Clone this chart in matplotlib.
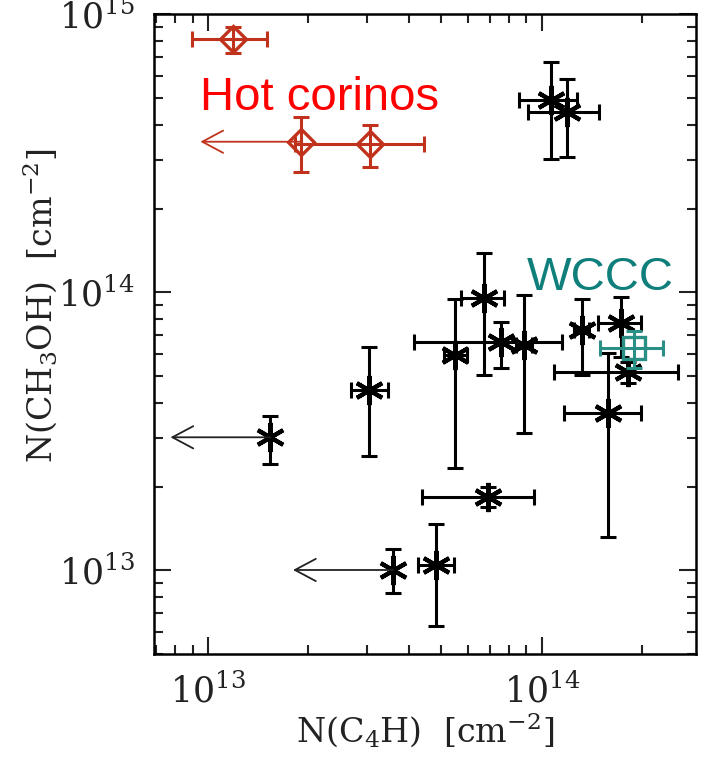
import numpy as np
import matplotlib.pyplot as plt

plt.rcParams['font.family'] = 'DejaVu Serif'
plt.rcParams['mathtext.fontset'] = 'dejavuserif'

# Sources detected in both species (black asterisks)
det_x = [1.065e14, 1.187e14, 3.05e13, 5.50e13, 7.54e13, 8.85e13, 6.72e13,
         1.319e14, 1.726e14, 1.82e14, 1.58e14, 6.93e13, 4.84e13]
det_x_lo = [8.56e13, 9.13e13, 2.68e13, 5.10e13, 4.14e13, 8.35e13, 5.72e13,
            1.25e14, 1.47e14, 1.089e14, 1.167e14, 4.39e13, 4.27e13]
det_x_hi = [1.28e14, 1.486e14, 3.47e13, 5.99e13, 1.154e14, 9.35e13, 7.72e13,
            1.39e14, 1.99e14, 2.553e14, 1.98e14, 9.49e13, 5.46e13]
det_y = [4.92e14, 4.46e14, 4.45e13, 5.95e13, 6.64e13, 6.46e13, 9.51e13,
         7.32e13, 7.74e13, 5.17e13, 3.69e13, 1.84e13, 1.045e13]
det_y_lo = [3.02e14, 3.06e14, 2.58e13, 2.33e13, 5.36e13, 3.13e13, 5.04e13,
            5.04e13, 5.84e13, 4.72e13, 1.318e13, 1.69e13, 6.32e12]
det_y_hi = [6.75e14, 5.84e14, 6.34e13, 9.44e13, 7.84e13, 9.78e13, 1.381e14,
            9.44e13, 9.64e13, 5.62e13, 6.03e13, 1.99e13, 1.464e13]

# Sources with only an upper limit on N(C4H)
lim_x = [1.54e13, 3.59e13]
lim_x_end = [7.73e12, 1.80e13]
lim_y = [3.01e13, 1.003e13]
lim_y_lo = [2.41e13, 8.27e12]
lim_y_hi = [3.60e13, 1.19e13]

# Hot corinos
hc_x = [1.19e13, 3.07e13]
hc_x_lo = [8.94e12, 1.83e13]
hc_x_hi = [1.506e13, 4.43e13]
hc_y = [8.13e14, 3.42e14]
hc_y_lo = [7.24e14, 2.83e14]
hc_y_hi = [9.02e14, 4.00e14]
hc_lim_x = [1.90e13]
hc_lim_x_end = [9.5e12]
hc_lim_y = [3.48e14]
hc_lim_y_lo = [2.70e14]
hc_lim_y_hi = [4.28e14]

# WCCC source
wc_x = [1.892e14]
wc_x_lo = [1.496e14]
wc_x_hi = [2.31e14]
wc_y = [6.29e13]
wc_y_lo = [5.33e13]
wc_y_hi = [7.27e13]


def errs(v, lo, hi):
    v, lo, hi = np.asarray(v), np.asarray(lo), np.asarray(hi)
    return np.vstack([v - lo, hi - v])


black = 'black'
red = '#c0321c'
teal = '#2a8f84'
star = (6, 2, 0)
ebar = dict(fmt='none', elinewidth=2.2, capsize=6, capthick=2.2)
arrow = '->,head_length=1.5,head_width=0.8'

fig = plt.figure(figsize=(7.01, 7.63), dpi=100)
ax = fig.add_axes([0.2197, 0.1428, 0.7732, 0.8385])
ax.set_xscale('log')
ax.set_yscale('log')

ax.errorbar(det_x, det_y, xerr=errs(det_x, det_x_lo, det_x_hi),
            yerr=errs(det_y, det_y_lo, det_y_hi), ecolor=black, **ebar)
ax.plot(det_x, det_y, ls='none', marker=star, ms=21, mew=3.0, color=black)

ax.errorbar(lim_x, lim_y, yerr=errs(lim_y, lim_y_lo, lim_y_hi), ecolor=black, **ebar)
ax.plot(lim_x, lim_y, ls='none', marker=star, ms=21, mew=3.0, color=black)
for x0, x1, y0 in zip(lim_x, lim_x_end, lim_y):
    ax.annotate('', xy=(x1, y0), xytext=(x0, y0),
                arrowprops=dict(arrowstyle=arrow, lw=1.3, color='#222222',
                                shrinkA=0, shrinkB=0))

ax.errorbar(hc_x, hc_y, xerr=errs(hc_x, hc_x_lo, hc_x_hi),
            yerr=errs(hc_y, hc_y_lo, hc_y_hi), ecolor=red, **ebar)
ax.errorbar(hc_lim_x, hc_lim_y, yerr=errs(hc_lim_y, hc_lim_y_lo, hc_lim_y_hi),
            ecolor=red, **ebar)
for x0, x1, y0 in zip(hc_lim_x, hc_lim_x_end, hc_lim_y):
    ax.annotate('', xy=(x1, y0), xytext=(x0, y0),
                arrowprops=dict(arrowstyle=arrow, lw=1.3, color=red,
                                shrinkA=0, shrinkB=0))
ax.plot(hc_x + hc_lim_x, hc_y + hc_lim_y, ls='none', marker='D', ms=13,
        mew=2.4, mfc='none', mec=red)

ax.errorbar(wc_x, wc_y, xerr=errs(wc_x, wc_x_lo, wc_x_hi),
            yerr=errs(wc_y, wc_y_lo, wc_y_hi), ecolor=teal, **ebar)
ax.plot(wc_x, wc_y, ls='none', marker='s', ms=16, mew=2.4, mfc='none', mec=teal)

ax.text(0.085, 0.85, 'Hot corinos', transform=ax.transAxes, color='red',
        fontsize=34, family='Liberation Sans', va='baseline')
ax.text(0.688, 0.569, 'WCCC', transform=ax.transAxes, color='#0e7f7a',
        fontsize=34, family='Liberation Sans', va='baseline')

ax.set_xlim(6.9e12, 2.9e14)
ax.set_ylim(5e12, 1e15)

for s in ax.spines.values():
    s.set_linewidth(1.8)
ax.tick_params(which='both', direction='in', top=True, right=True, width=1.5,
               labelsize=25, colors='#222222')
ax.tick_params(which='major', length=12, pad=14)
ax.tick_params(which='minor', length=6.5)
ax.tick_params(axis='x', which='major', pad=14)

ax.set_xlabel(r'N(C$_4$H)  [cm$^{-2}$]', fontsize=24, color='#222222', labelpad=0)
ax.set_ylabel(r'N(CH$_3$OH)  [cm$^{-2}$]', fontsize=24, color='#222222')
ax.yaxis.set_label_coords(-0.175, 0.545)

plt.savefig('out.png', dpi=100)
